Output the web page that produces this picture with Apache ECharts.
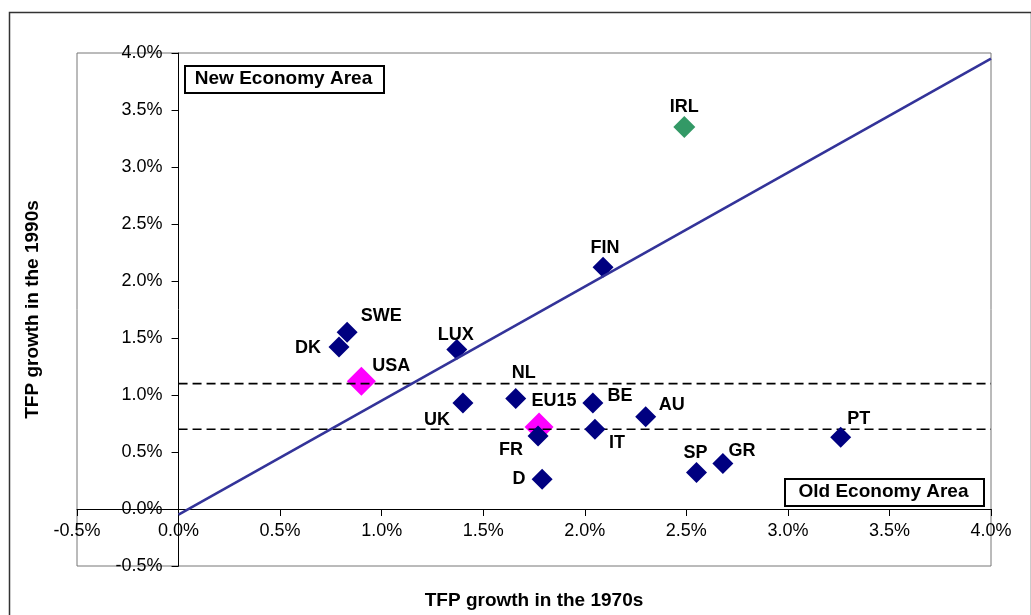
<!DOCTYPE html>
<html>
<head>
<meta charset="utf-8">
<script src="https://cdn.jsdelivr.net/npm/echarts@6/dist/echarts.min.js"></script>
<style>
html,body{margin:0;padding:0;background:#fff;}
#chart{width:1031px;height:615px;}
</style>
</head>
<body>
<div id="chart"></div>
<script>
// ---- data ----
const xTicks = [-0.5, 0.0, 0.5, 1.0, 1.5, 2.0, 2.5, 3.0, 3.5, 4.0];
const yTicks = [-0.5, 0.0, 0.5, 1.0, 1.5, 2.0, 2.5, 3.0, 3.5, 4.0];

const countries  = ['FIN','SWE','DK','LUX','NL','UK','BE','AU','IT','FR','D','SP','GR','PT'];
const tfp1970s   = [2.09, 0.83, 0.79, 1.37, 1.66, 1.40, 2.04, 2.30, 2.05, 1.77, 1.79, 2.55, 2.68, 3.26];
const tfp1990s   = [2.12, 1.55, 1.42, 1.40, 0.97, 0.93, 0.93, 0.81, 0.70, 0.64, 0.26, 0.32, 0.40, 0.63];

const outlier    = ['IRL'];
const outlier70s = [2.49];
const outlier90s = [3.35];

const benchmarks = ['USA','EU15'];
const bench70s   = [0.90, 1.775];
const bench90s   = [1.12, 0.72];

const refLevels  = [1.10, 0.70];            // dashed horizontal reference lines
const diagonalX  = [0.0, 4.0];
const diagonalY  = [-0.05, 3.95];

const xTitle = 'TFP growth in the 1970s';
const yTitle = 'TFP growth in the 1990s';
const newAreaText = 'New Economy Area';
const oldAreaText = 'Old Economy Area';

// ---- label placement (style, kept apart from the data) ----
const labelOffsets = {
  IRL:[0,-20], FIN:[2,-19], SWE:[34,-16], DK:[-31,1], LUX:[-1,-14],
  NL:[8,-25], UK:[-26,17], BE:[27,-7], AU:[26,-12], IT:[22,14],
  FR:[-27,14], D:[-23,0], SP:[-1,-19], GR:[19,-12], PT:[18,-18],
  USA:[30,-15], EU15:[15,-26]
};

const FONT = '"Liberation Sans", Arial, sans-serif';
const labelStyle = {show:true, position:'inside', color:'#000', fontFamily:FONT, fontWeight:'bold', fontSize:18, formatter:'{b}'};

function pts(names, xs, ys){
  return names.map((n,i)=>({name:n, value:[xs[i], ys[i]], label:{offset:labelOffsets[n]}}));
}

const chart = echarts.init(document.getElementById('chart'), null, {renderer:'canvas'});

const series = [
  {
    type:'scatter', name:'benchmarks', symbol:'diamond', symbolSize:29, z:2,
    itemStyle:{color:'#FF00FF', opacity:1},
    label:labelStyle,
    data:pts(benchmarks, bench70s, bench90s)
  },
  {
    type:'line', name:'ref1', z:3, symbol:'none', silent:true,
    lineStyle:{color:'#000', width:1.6, type:[9,5]},
    data:[[0, refLevels[0]], [4, refLevels[0]]]
  },
  {
    type:'line', name:'ref2', z:3, symbol:'none', silent:true,
    lineStyle:{color:'#000', width:1.6, type:[9,5]},
    data:[[0, refLevels[1]], [4, refLevels[1]]]
  },
  {
    type:'scatter', name:'countries', symbol:'diamond', symbolSize:21, z:4,
    itemStyle:{color:'#000080', opacity:1},
    label:labelStyle,
    data:pts(countries, tfp1970s, tfp1990s)
  },
  {
    type:'scatter', name:'outlier', symbol:'diamond', symbolSize:22, z:4,
    itemStyle:{color:'#339966', opacity:1},
    label:labelStyle,
    data:pts(outlier, outlier70s, outlier90s)
  },
  {
    type:'line', name:'diagonal', z:5, symbol:'none', silent:true,
    lineStyle:{color:'#333399', width:2.6},
    data:diagonalX.map((x,i)=>[x, diagonalY[i]])
  }
];

function pct(v){ return v.toFixed(1) + '%'; }

chart.setOption({
  animation:false,
  backgroundColor:'#fff',
  grid:{left:77, right:40, top:53, bottom:49, containLabel:false, outerBoundsMode:'none',
        show:true, borderColor:'#777', borderWidth:1, backgroundColor:'#fff'},
  xAxis:{
    type:'value', min:xTicks[0], max:xTicks[xTicks.length-1], interval:0.5,
    axisLine:{show:true, onZero:false, lineStyle:{color:'#000', width:1}},
    axisTick:{show:true, inside:false, length:7, lineStyle:{color:'#000'}},
    axisLabel:{formatter:pct, color:'#000', fontFamily:FONT, fontSize:18, margin:13, showMinLabel:true, showMaxLabel:true},
    splitLine:{show:false},
    name:xTitle, nameLocation:'middle', nameGap:82,
    nameTextStyle:{color:'#000', fontFamily:FONT, fontWeight:'bold', fontSize:19}
  },
  yAxis:{
    type:'value', min:yTicks[0], max:yTicks[yTicks.length-1], interval:0.5,
    axisLine:{show:true, onZero:false, lineStyle:{color:'#000', width:1}},
    axisTick:{show:true, inside:false, length:7, lineStyle:{color:'#000'}},
    axisLabel:{formatter:pct, color:'#000', fontFamily:FONT, fontSize:18, margin:16, showMinLabel:true, showMaxLabel:true},
    splitLine:{show:false},
    name:yTitle, nameLocation:'middle', nameGap:136, nameRotate:90,
    nameTextStyle:{color:'#000', fontFamily:FONT, fontWeight:'bold', fontSize:19}
  },
  graphic:[
    {type:'rect', left:7, top:10, shape:{width:1022, height:620}, style:{fill:'none', stroke:'#333', lineWidth:1.5}, z:-10, silent:true},
    {type:'rect', left:184, top:65, shape:{width:199, height:27}, style:{fill:'#fff', stroke:'#000', lineWidth:2}, z:10, silent:true},
    {type:'text', style:{text:newAreaText, x:283.5, y:79, align:'center', verticalAlign:'middle', fill:'#000', font:'bold 19px ' + FONT}, z:11, silent:true},
    {type:'rect', left:784, top:478, shape:{width:199, height:27}, style:{fill:'#fff', stroke:'#000', lineWidth:2}, z:10, silent:true},
    {type:'text', style:{text:oldAreaText, x:883.5, y:492, align:'center', verticalAlign:'middle', fill:'#000', font:'bold 19px ' + FONT}, z:11, silent:true}
  ],
  series:series
});

// Move both axes so that they cross at the origin (0, 0), as in the reference.
const corner = chart.convertToPixel({gridIndex:0}, [xTicks[0], yTicks[0]]);
const origin = chart.convertToPixel({gridIndex:0}, [0, 0]);
chart.setOption({
  xAxis:{offset: -(corner[1] - origin[1])},
  yAxis:{offset: -(origin[0] - corner[0])}
});
</script>
</body>
</html>
